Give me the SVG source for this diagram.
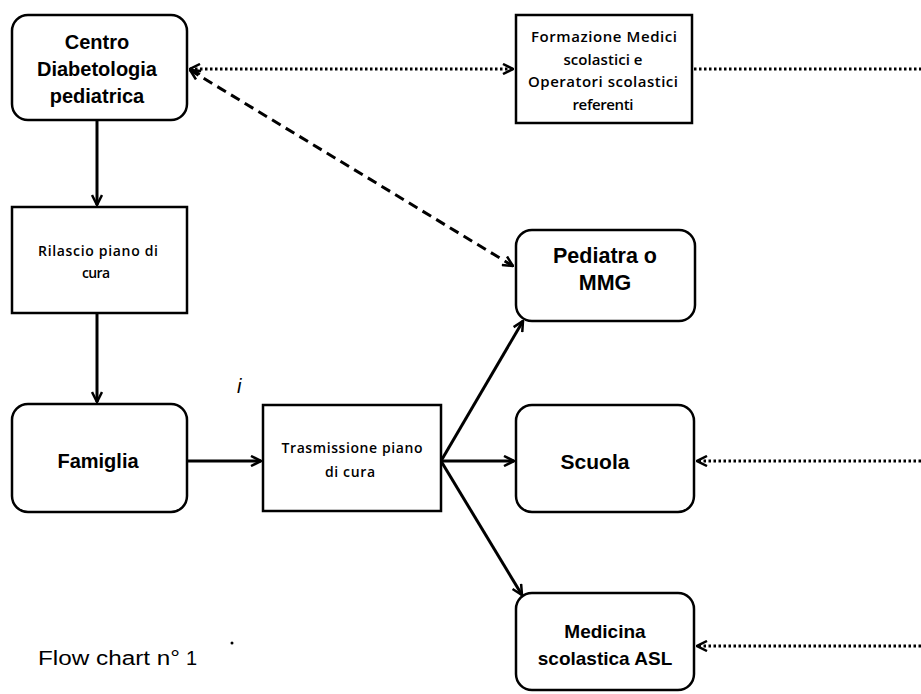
<svg xmlns="http://www.w3.org/2000/svg" width="921" height="694" viewBox="0 0 921 694">
<style>
.box{fill:#fff;stroke:#000;stroke-width:2.5}
.big{font-family:"Liberation Sans",Arial,sans-serif;font-weight:bold;font-size:19px;text-anchor:middle;fill:#000}
.small{font-family:"Open Sans","Liberation Sans",sans-serif;font-weight:600;font-size:14px;text-anchor:middle;fill:#000}
.cap{font-family:"Liberation Sans",Arial,sans-serif;font-size:20px;fill:#000}
.solid{fill:none;stroke:#000;stroke-width:3}
.dot{fill:none;stroke:#000;stroke-width:3;stroke-dasharray:2.5 2.5}
.dash{fill:none;stroke:#000;stroke-width:3;stroke-dasharray:10 6}
</style>
<defs>
<marker id="ah" viewBox="0 0 12 12" refX="11" refY="6" markerWidth="12" markerHeight="12" markerUnits="userSpaceOnUse" orient="auto-start-reverse">
<path d="M1,1 L11,6 L1,11" fill="none" stroke="#000" stroke-width="2.5"/>
</marker>
</defs>
<rect width="921" height="694" fill="#fff"/>
<g id="connectors">
<line class="solid" x1="97" y1="121" x2="97" y2="205" marker-end="url(#ah)"/>
<line class="solid" x1="97" y1="314" x2="97" y2="402" marker-end="url(#ah)"/>
<line class="solid" x1="187" y1="461" x2="261" y2="461" marker-end="url(#ah)"/>
<line class="solid" x1="441" y1="461" x2="523" y2="321" marker-end="url(#ah)"/>
<line class="solid" x1="441" y1="461" x2="514" y2="461" marker-end="url(#ah)"/>
<line class="solid" x1="441" y1="461" x2="522" y2="595" marker-end="url(#ah)"/>
<line class="dot" x1="190" y1="69" x2="513" y2="69" marker-start="url(#ah)" marker-end="url(#ah)"/>
<line class="dot" x1="694" y1="69" x2="921" y2="69"/>
<line class="dash" x1="190" y1="70" x2="513" y2="266" marker-start="url(#ah)" marker-end="url(#ah)"/>
<line class="dot" x1="921" y1="461" x2="697" y2="461" marker-end="url(#ah)"/>
<line class="dot" x1="921" y1="646" x2="697" y2="646" marker-end="url(#ah)"/>
</g>
<g id="centro">
<rect class="box" x="12" y="15" width="175" height="105" rx="16"/>
<text class="big" x="97" y="49" style="font-size:20px">Centro</text>
<text class="big" x="97" y="76" style="font-size:20px">Diabetologia</text>
<text class="big" x="97" y="103" style="font-size:20px">pediatrica</text>
</g>
<g id="formazione">
<rect class="box" x="516" y="15" width="176" height="108"/>
<text class="small" x="604" y="42" style="font-size:15px" textLength="146" lengthAdjust="spacing">Formazione Medici</text>
<text class="small" x="603" y="65" style="font-size:15px" textLength="79" lengthAdjust="spacing">scolastici e</text>
<text class="small" x="603" y="87" style="font-size:15px" textLength="150" lengthAdjust="spacing">Operatori scolastici</text>
<text class="small" x="603" y="110" style="font-size:15px" textLength="61" lengthAdjust="spacing">referenti</text>
</g>
<g id="rilascio">
<rect class="box" x="12" y="207" width="175" height="106"/>
<text class="small" x="98" y="256" textLength="120" lengthAdjust="spacing">Rilascio piano di</text>
<text class="small" x="96" y="278" textLength="28" lengthAdjust="spacing">cura</text>
</g>
<g id="famiglia">
<rect class="box" x="12" y="404" width="175" height="108" rx="16"/>
<text class="big" x="98" y="468" style="font-size:20px">Famiglia</text>
</g>
<g id="trasmissione">
<rect class="box" x="263" y="405" width="178" height="106"/>
<text class="small" x="352" y="453" textLength="141" lengthAdjust="spacing">Trasmissione piano</text>
<text class="small" x="350" y="477" textLength="50" lengthAdjust="spacing">di cura</text>
</g>
<g id="pediatra">
<rect class="box" x="516" y="230" width="179" height="91" rx="16"/>
<text class="big" x="605" y="263" style="font-size:21.5px">Pediatra o</text>
<text class="big" x="605" y="290" style="font-size:21.5px">MMG</text>
</g>
<g id="scuola">
<rect class="box" x="516" y="405" width="178" height="107" rx="16"/>
<text class="big" x="595" y="469" style="font-size:21px">Scuola</text>
</g>
<g id="medicina">
<rect class="box" x="516" y="593" width="178" height="97" rx="16"/>
<text class="big" x="605" y="638">Medicina</text>
<text class="big" x="605" y="665">scolastica ASL</text>
</g>
<text class="cap" x="38" y="665"><tspan textLength="142" lengthAdjust="spacingAndGlyphs">Flow chart n°</tspan><tspan x="186">1</tspan></text>
<circle cx="232" cy="643" r="1.5" fill="#000"/>
<text x="237" y="393" font-family="Liberation Sans, Arial, sans-serif" font-size="20" font-style="italic" fill="#000">i</text>
</svg>
